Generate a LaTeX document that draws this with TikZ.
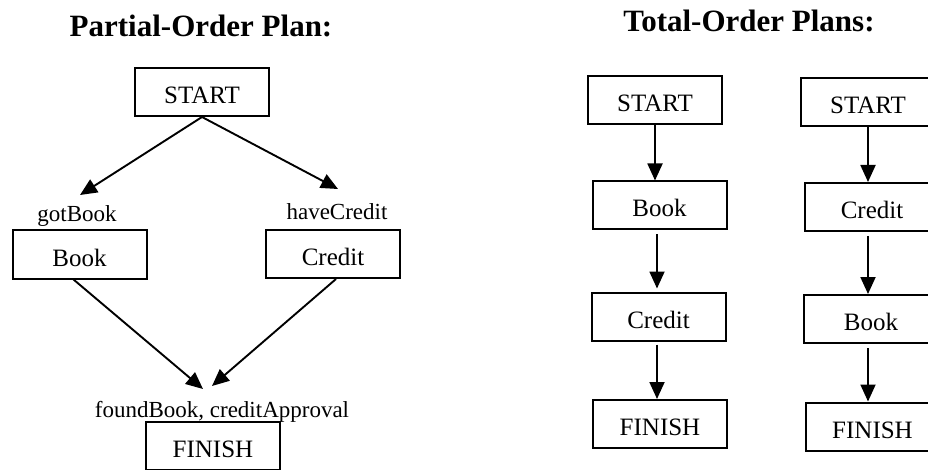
\documentclass[tikz,border=0pt]{standalone}
\usepackage{fontspec}
\setmainfont{Liberation Serif}
\usetikzlibrary{arrows.meta,calc}
\begin{document}
\begin{tikzpicture}[x=1pt,y=-1pt,
  stepbox/.style={draw,line width=2pt,rectangle,inner sep=0pt,
    minimum width=134pt,minimum height=48pt,text height=23pt,text depth=0pt,
    font=\fontsize{25}{30}\selectfont},
  cond/.style={anchor=base,inner sep=0pt,font=\fontsize{23}{28}\selectfont},
  heading/.style={anchor=base,inner sep=0pt,font=\fontsize{31}{36}\selectfont\bfseries},
  link/.style={line width=1.9pt,-{Triangle[length=17pt,width=15pt]}}]
\useasboundingbox (0,0) rectangle (928,470);
\clip (0,0) rectangle (928,470);

% ---- partial-order plan ----
\node[heading] (poTitle) at (201,37) {Partial-Order Plan:};
\node[stepbox] (poStart)  at (202,92)    {START};
\node[stepbox] (poBook)   at (79.5,254.5) {Book};
\node[stepbox] (poCredit) at (333,254)   {Credit};
\node[stepbox] (poFinish) at (213,446)   {FINISH};
\node[cond] (gotBook)    at (77,222)  {gotBook};
\node[cond] (haveCredit) at (337,220) {haveCredit};
\node[cond] (foundBook)  at (222,417) {foundBook, creditApproval};

\coordinate (tipGot)    at (80,195);
\coordinate (tipHave)   at (338,189);
\coordinate (tipFoundL) at (203,389);
\coordinate (tipFoundR) at (212,386);

\draw[link] (poStart.south) -- (tipGot);
\draw[link] (poStart.south) -- (tipHave);
\draw[link] ($(poBook.south)+(-6,0)$) -- (tipFoundL);
\draw[link] ($(poCredit.south)+(3,0)$) -- (tipFoundR);

% ---- total-order plans ----
\node[heading] (toTitle) at (749,32) {Total-Order Plans:};

% first ordering: Book before Credit
\node[stepbox] (toAStart)  at (655,100)   {START};
\node[stepbox] (toABook)   at (659.5,205.5) {Book};
\node[stepbox] (toACredit) at (658.5,316.5) {Credit};
\node[stepbox] (toAFinish) at (660,424)   {FINISH};

\draw[link] (toAStart.south) -- (toAStart.south |- toABook.north);
\draw[link] ($(toABook.south)+(-2.5,4)$) -- ($(toABook.south |- toACredit.north)+(-2.5,-3)$);
\draw[link] ($(toACredit.south)+(-1.5,3)$) -- ($(toACredit.south |- toAFinish.north)+(-1.5,0)$);

% second ordering: Credit before Book
\node[stepbox] (toBStart)  at (868,102.5) {START};
\node[stepbox] (toBCredit) at (872,207)   {Credit};
\node[stepbox] (toBBook)   at (871,319)   {Book};
\node[stepbox] (toBFinish) at (872.5,426.5) {FINISH};

\draw[link] (toBStart.south) -- (toBStart.south |- toBCredit.north);
\draw[link] ($(toBCredit.south -| toBStart.south)+(0,4)$) -- (toBStart.south |- toBBook.north);
\draw[link] ($(toBBook.south -| toBStart.south)+(0,4)$) -- (toBStart.south |- toBFinish.north);
\end{tikzpicture}
\end{document}
